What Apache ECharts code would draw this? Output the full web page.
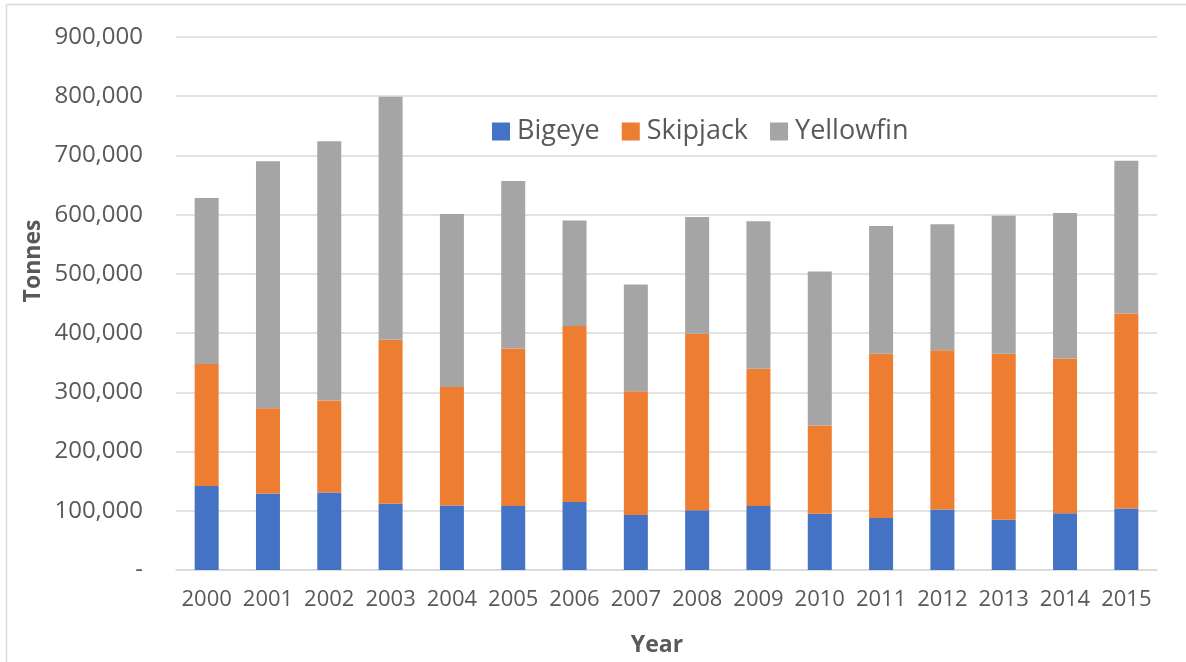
<!DOCTYPE html>
<html>
<head>
<meta charset="utf-8">
<title>Tuna catch by species, 2000–2015</title>
<script src="https://cdn.jsdelivr.net/npm/echarts@6/dist/echarts.min.js"></script>
<style>
  html, body { margin: 0; padding: 0; background: #ffffff; }
  #chart { width: 1186px; height: 662px; }
</style>
</head>
<body>
<div id="chart"></div>
<script>
// Catch by species (tonnes), one value per year
const years = ['2000','2001','2002','2003','2004','2005','2006','2007','2008','2009','2010','2011','2012','2013','2014','2015'];
const bigeye    = [142000,129000,131000,112000,109000,108000,115000, 93000,101000,108000, 95000, 88000,102000, 85000, 96000,104000];
const skipjack  = [206000,144000,155000,277000,200000,266000,297000,209000,298000,232000,149000,277000,269000,280000,261000,329000];
const yellowfin = [280000,417000,438000,410000,292000,283000,178000,180000,197000,249000,260000,216000,213000,233000,246000,258000];
const yTicks = { min: 0, max: 900000, interval: 100000 };

const FONT = '"Open Sans", "Liberation Sans", sans-serif';
const TEXT = '#595959';
const GRID = '#d9d9d9';

const chart = echarts.init(document.getElementById('chart'), null, { renderer: 'canvas' });

function barSeries(name, data, color) {
  return {
    name: name,
    type: 'bar',
    stack: 'catch',
    data: data,
    barWidth: 24,
    itemStyle: { color: color },
    emphasis: { disabled: true }
  };
}

chart.setOption({
  animation: false,
  backgroundColor: '#ffffff',
  grid: { left: 176, right: 29, top: 37, bottom: 92, containLabel: false },
  legend: {
    top: 113,
    left: 487,
    itemWidth: 18,
    itemHeight: 18,
    itemGap: 22,
    icon: 'rect',
    textStyle: { color: TEXT, fontFamily: FONT, fontSize: 27, padding: [0, 0, 0, 2] },
    data: ['Bigeye', 'Skipjack', 'Yellowfin']
  },
  xAxis: {
    type: 'category',
    data: years,
    axisLine: { lineStyle: { color: GRID, width: 1.5 } },
    axisTick: { show: false },
    axisLabel: { interval: 0, color: TEXT, fontFamily: FONT, fontSize: 22, margin: 19 }
  },
  yAxis: {
    type: 'value',
    min: yTicks.min,
    max: yTicks.max,
    interval: yTicks.interval,
    axisLine: { show: false },
    axisTick: { show: false },
    splitLine: { lineStyle: { color: GRID, width: 1.5 } },
    axisLabel: {
      color: TEXT,
      fontFamily: FONT,
      fontSize: 24,
      margin: 33,
      formatter: v => v === 0 ? '-' : v.toLocaleString('en-US')
    }
  },
  series: [
    barSeries('Bigeye', bigeye, '#4472c4'),
    barSeries('Skipjack', skipjack, '#ed7d31'),
    barSeries('Yellowfin', yellowfin, '#a5a5a5')
  ],
  graphic: [
    // chart frame (top and left edges)
    { type: 'line', silent: true, shape: { x1: 6.5, y1: 4.5, x2: 1186, y2: 4.5 }, style: { stroke: GRID, lineWidth: 1.5 } },
    { type: 'line', silent: true, shape: { x1: 6.5, y1: 4.5, x2: 6.5, y2: 662 }, style: { stroke: GRID, lineWidth: 1.5 } },
    // axis titles
    {
      type: 'text', silent: true,
      x: 33, y: 261, rotation: Math.PI / 2,
      style: { text: 'Tonnes', fill: TEXT, font: 'bold 23px ' + FONT, align: 'center', verticalAlign: 'middle' }
    },
    {
      type: 'text', silent: true,
      x: 657, y: 645,
      style: { text: 'Year', fill: TEXT, font: 'bold 23px ' + FONT, align: 'center', verticalAlign: 'middle' }
    }
  ]
});
</script>
</body>
</html>
